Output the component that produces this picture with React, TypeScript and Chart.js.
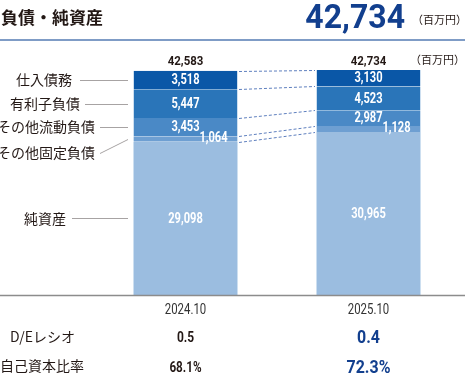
import React, { useEffect, useRef } from "react";
import { Chart, registerables } from "chart.js";

Chart.register(...registerables);

const categories = ["2024.10", "2025.10"];
const segmentNames = ["純資産", "その他固定負債", "その他流動負債", "有利子負債", "仕入債務"];
const netAssets = [29098, 30965];
const otherFixedLiab = [1064, 1128];
const otherCurrentLiab = [3453, 2987];
const interestBearingDebt = [5447, 4523];
const tradePayables = [3518, 3130];
const totals = ["42,583", "42,734"];
const deRatio = ["0.5", "0.4"];
const equityRatio = ["68.1%", "72.3%"];
const headline = "42,734";

const seriesValues = [netAssets, otherFixedLiab, otherCurrentLiab, interestBearingDebt, tradePayables];
const colors = ["#9bbde0", "#6e9fd2", "#4a89c6", "#2a75b9", "#0a57a7"];

const DARK = "#231815";
const NAVY = "#123f8e";
const JP = '"Noto Sans CJK JP", "Noto Sans", sans-serif';
const NUM = 'Roboto, "Noto Sans", sans-serif';

function txt(ctx: CanvasRenderingContext2D, s: string, x: number, y: number, font: string, color: string, align: CanvasTextAlign = "center", baseline: CanvasTextBaseline = "middle", sx = 1) {
  ctx.save();
  ctx.font = font;
  ctx.fillStyle = color;
  ctx.textAlign = align;
  ctx.textBaseline = baseline;
  ctx.translate(x, y);
  ctx.scale(sx, 1);
  ctx.fillText(s, 0, 0);
  ctx.restore();
}

function line(ctx: CanvasRenderingContext2D, x1: number, y1: number, x2: number, y2: number, color: string, w = 1, dash: number[] = []) {
  ctx.save();
  ctx.strokeStyle = color;
  ctx.lineWidth = w;
  ctx.setLineDash(dash);
  ctx.beginPath();
  ctx.moveTo(x1, y1);
  ctx.lineTo(x2, y2);
  ctx.stroke();
  ctx.restore();
}

// label layout for left-side annotations (index matches segmentNames)
const labelLayout = [
  { right: 66, lineStart: 72, dy: 0 },
  { right: 95, lineStart: 100, dy: 14 },
  { right: 95, lineStart: 100, dy: 0 },
  { right: 80, lineStart: 85, dy: 0 },
  { right: 72, lineStart: 80, dy: 0 },
];

const overlayPlugin = {
  id: "overlay",
  afterDatasetsDraw(chart: any) {
    const ctx: CanvasRenderingContext2D = chart.ctx;
    const W = chart.width;
    const yScale = chart.scales.y;
    const baseY = Math.round(yScale.getPixelForValue(0)) + 0.5;

    // header
    txt(ctx, "負債・純資産", 1, 18, `bold 17px ${JP}`, DARK, "left", "middle");
    txt(ctx, headline, 405, 28, `bold 33px ${NUM}`, NAVY, "right", "alphabetic", 0.97);
    txt(ctx, "（百万円）", 467, 20, `11px ${JP}`, DARK, "right", "middle");
    line(ctx, 0, 40, W, 40, "#7f9cc6", 2);

    const metas = seriesValues.map((_, i) => chart.getDatasetMeta(i));

    // dashed connectors between bars
    for (let i = 0; i < seriesValues.length; i++) {
      const a = metas[i].data[0];
      const b = metas[i].data[1];
      line(ctx, a.x + a.width / 2 + 1, Math.round(a.y) + 0.5, b.x - b.width / 2 - 1, Math.round(b.y) + 0.5, "#5e7fbe", 1, [3, 2]);
    }

    // values inside bars
    for (let i = 0; i < seriesValues.length; i++) {
      for (let j = 0; j < categories.length; j++) {
        const el = metas[i].data[j];
        const v = seriesValues[i][j].toLocaleString("en-US");
        let cx = el.x;
        let cy = (el.y + el.base) / 2;
        if (i === 1) { cx += 28; cy -= 1.5; }
        txt(ctx, v, cx, cy + 0.5, `bold 15px ${NUM}`, "#ffffff", "center", "middle", 0.74);
      }
    }

    // totals above bars
    for (let j = 0; j < categories.length; j++) {
      const el = metas[4].data[j];
      txt(ctx, totals[j], el.x, 64.5, `bold 13px ${NUM}`, DARK, "center", "alphabetic", 0.88);
    }
    txt(ctx, "（百万円）", 465, 60, `11px ${JP}`, DARK, "right", "middle");

    // left annotations with leader lines (from first bar)
    for (let i = 0; i < segmentNames.length; i++) {
      const el = metas[i].data[0];
      const cy = (el.y + el.base) / 2;
      const L = labelLayout[i];
      const ly = cy + L.dy;
      txt(ctx, segmentNames[i], L.right, ly, `14px ${JP}`, DARK, "right", "middle");
      const endX = el.x - el.width / 2 - 5;
      line(ctx, L.lineStart, Math.round(ly) + 0.5, endX, Math.round(cy) + 0.5, "#a7a3a3", 1);
    }

    // axis line
    line(ctx, 0, baseY, W, baseY, "#8c8c8c", 1.5);

    // category labels and ratio rows
    const xScale = chart.scales.x;
    for (let j = 0; j < categories.length; j++) {
      const cx = xScale.getPixelForValue(j);
      txt(ctx, categories[j], cx, 314, `15px ${NUM}`, "#333333", "center", "alphabetic", 0.76);
      const last = j === categories.length - 1;
      if (last) {
        txt(ctx, deRatio[j], cx, 343, `bold 19px ${NUM}`, NAVY, "center", "alphabetic", 0.84);
        txt(ctx, equityRatio[j], cx, 372.5, `bold 19px ${NUM}`, NAVY, "center", "alphabetic", 0.84);
      } else {
        txt(ctx, deRatio[j], cx, 342, `bold 15px ${NUM}`, DARK, "center", "alphabetic", 0.8);
        txt(ctx, equityRatio[j], cx, 371.5, `bold 15px ${NUM}`, DARK, "center", "alphabetic", 0.78);
      }
    }
    txt(ctx, "D/Eレシオ", 10, 337, `14px ${JP}`, DARK, "left", "middle");
    txt(ctx, "自己資本比率", 0, 366, `14px ${JP}`, DARK, "left", "middle");
  },
};

export default function App() {
  const ref = useRef<HTMLCanvasElement | null>(null);
  useEffect(() => {
    document.body.style.margin = "0";
    const canvas = ref.current;
    if (!canvas) return;
    const chart = new Chart(canvas, {
      type: "bar",
      data: {
        labels: categories,
        datasets: seriesValues.map((vals, i) => ({
          label: segmentNames[i],
          data: vals,
          backgroundColor: colors[i],
          borderColor: "#cddff0",
          borderWidth: { left: 1, right: 1, top: 0, bottom: 0 },
          borderSkipped: false,
          barPercentage: 1,
          categoryPercentage: 105 / 183,
        })),
      },
      options: {
        responsive: false,
        animation: false,
        events: [],
        layout: { padding: { left: 94, right: 5, top: 58, bottom: 84 } },
        plugins: { legend: { display: false }, tooltip: { enabled: false } },
        scales: {
          x: { stacked: true, display: false, grid: { display: false } },
          y: { stacked: true, display: false, min: 0, max: 45000, grid: { display: false } },
        },
      },
      plugins: [overlayPlugin],
    });
    return () => chart.destroy();
  }, []);
  return (
    <div style={{ position: "fixed", left: 0, top: 0, width: 465, height: 379, background: "#fff" }}>
      <canvas ref={ref} width={465} height={379} style={{ display: "block" }} />
    </div>
  );
}
